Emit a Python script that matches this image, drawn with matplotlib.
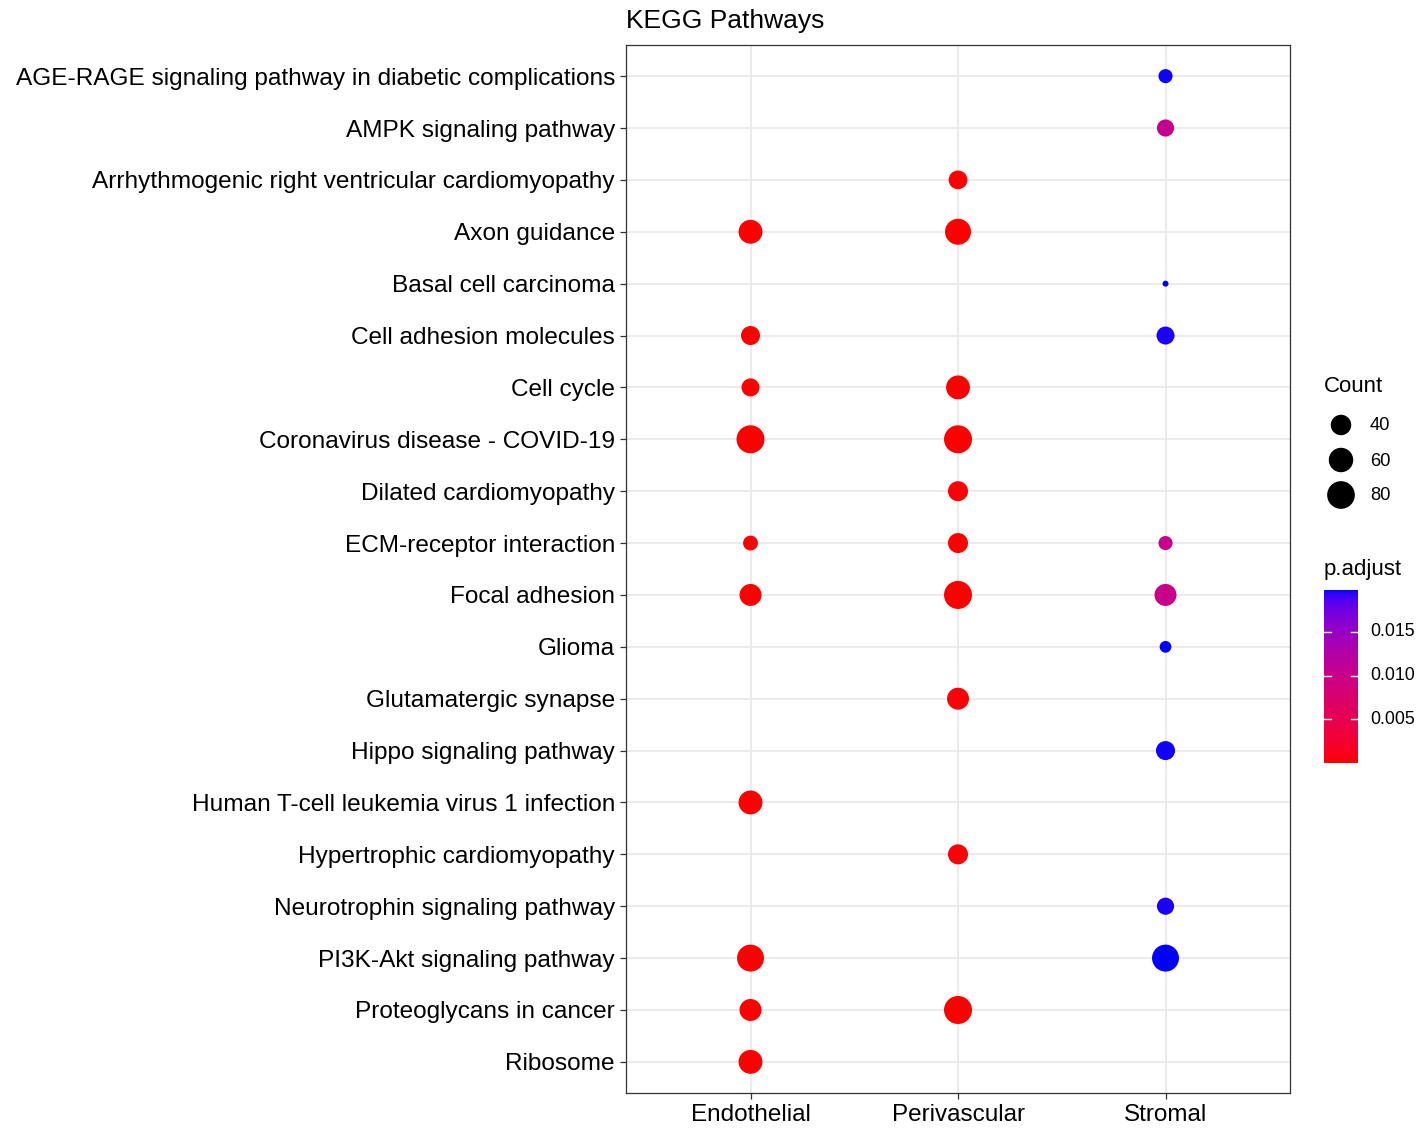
import numpy as np
import matplotlib
matplotlib.use("Agg")
import matplotlib.pyplot as plt
from matplotlib.colors import ListedColormap

plt.rcParams['font.family'] = ['Liberation Sans', 'DejaVu Sans']

# ---- data ----
pathways = [
    "AGE-RAGE signaling pathway in diabetic complications",
    "AMPK signaling pathway",
    "Arrhythmogenic right ventricular cardiomyopathy",
    "Axon guidance",
    "Basal cell carcinoma",
    "Cell adhesion molecules",
    "Cell cycle",
    "Coronavirus disease - COVID-19",
    "Dilated cardiomyopathy",
    "ECM-receptor interaction",
    "Focal adhesion",
    "Glioma",
    "Glutamatergic synapse",
    "Hippo signaling pathway",
    "Human T-cell leukemia virus 1 infection",
    "Hypertrophic cardiomyopathy",
    "Neurotrophin signaling pathway",
    "PI3K-Akt signaling pathway",
    "Proteoglycans in cancer",
    "Ribosome",
]
cell_types = ["Endothelial", "Perivascular", "Stromal"]

endothelial_terms = ["Axon guidance", "Cell adhesion molecules", "Cell cycle",
                     "Coronavirus disease - COVID-19", "ECM-receptor interaction",
                     "Focal adhesion", "Human T-cell leukemia virus 1 infection",
                     "PI3K-Akt signaling pathway", "Proteoglycans in cancer", "Ribosome"]
endothelial_count = [57, 34, 30, 82, 20, 47, 57, 75, 47, 57]
endothelial_padj = [2e-6, 5e-5, 1e-4, 1e-7, 2e-4, 6e-5, 3e-5, 1e-5, 4e-5, 1e-8]

perivascular_terms = ["Arrhythmogenic right ventricular cardiomyopathy", "Axon guidance",
                      "Cell cycle", "Coronavirus disease - COVID-19", "Dilated cardiomyopathy",
                      "ECM-receptor interaction", "Focal adhesion", "Glutamatergic synapse",
                      "Hypertrophic cardiomyopathy", "Proteoglycans in cancer"]
perivascular_count = [33, 69, 57, 82, 38, 38, 82, 47, 38, 82]
perivascular_padj = [1e-4, 1e-6, 5e-6, 1e-8, 2e-4, 1e-5, 1e-9, 3e-4, 2e-4, 1e-7]

stromal_terms = ["AGE-RAGE signaling pathway in diabetic complications",
                 "AMPK signaling pathway", "Basal cell carcinoma", "Cell adhesion molecules",
                 "ECM-receptor interaction", "Focal adhesion", "Glioma",
                 "Hippo signaling pathway", "Neurotrophin signaling pathway",
                 "PI3K-Akt signaling pathway"]
stromal_count = [18, 27, 8, 30, 18, 47, 13, 34, 27, 75]
stromal_padj = [0.0197, 0.0105, 0.0198, 0.0196, 0.0102, 0.0100, 0.0198, 0.0197, 0.0196, 0.0198]

count_breaks = [40, 60, 80]
padj_breaks = [0.005, 0.010, 0.015]


# ---- colour scale: red -> blue interpolated in CIE Lab ----
def srgb_to_lab(rgb):
    rgb = np.asarray(rgb, float)
    lin = np.where(rgb <= 0.04045, rgb / 12.92, ((rgb + 0.055) / 1.055) ** 2.4)
    M = np.array([[0.4124, 0.3576, 0.1805], [0.2126, 0.7152, 0.0722], [0.0193, 0.1192, 0.9505]])
    xyz = M @ lin / np.array([0.95047, 1.0, 1.08883])
    f = np.where(xyz > 0.008856, np.cbrt(xyz), 7.787 * xyz + 16 / 116)
    return np.array([116 * f[1] - 16, 500 * (f[0] - f[1]), 200 * (f[1] - f[2])])


def lab_to_srgb(lab):
    L, a, b = lab
    fy = (L + 16) / 116
    fx = fy + a / 500
    fz = fy - b / 200
    f = np.array([fx, fy, fz])
    xyz = np.where(f ** 3 > 0.008856, f ** 3, (f - 16 / 116) / 7.787) * np.array([0.95047, 1.0, 1.08883])
    Minv = np.array([[3.2406, -1.5372, -0.4986], [-0.9689, 1.8758, 0.0415], [0.0557, -0.2040, 1.0570]])
    lin = Minv @ xyz
    lin = np.clip(lin, 0, 1)
    rgb = np.where(lin <= 0.0031308, 12.92 * lin, 1.055 * lin ** (1 / 2.4) - 0.055)
    return np.clip(rgb, 0, 1)


lab_lo = srgb_to_lab([1, 0, 0])
lab_hi = srgb_to_lab([0, 0, 1])
cmap = ListedColormap([lab_to_srgb(lab_lo + (lab_hi - lab_lo) * t) for t in np.linspace(0, 1, 256)])

all_counts = endothelial_count + perivascular_count + stromal_count
all_padj = endothelial_padj + perivascular_padj + stromal_padj
cmin, cmax = min(all_counts), max(all_counts)
pmin, pmax = min(all_padj), max(all_padj)

DPI = 100


def marker_area(c):
    # diameter grows with sqrt of rescaled count (area scale), px -> pt^2
    d_px = 6 + 22 * np.sqrt((np.asarray(c, float) - cmin) / (cmax - cmin))
    return (d_px * 72 / DPI) ** 2


# ---- figure ----
W, H = 1420, 1129
fig = plt.figure(figsize=(W / DPI, H / DPI), dpi=DPI)


def fx(px):
    return px / W


def fy(py):
    return 1 - py / H


ax = fig.add_axes([fx(626), fy(1093), fx(1290) - fx(626), fy(45) - fy(1093)])
n = len(pathways)
ypos = {p: n - i for i, p in enumerate(pathways)}

for xi, (terms, counts, padj) in enumerate([
        (endothelial_terms, endothelial_count, endothelial_padj),
        (perivascular_terms, perivascular_count, perivascular_padj),
        (stromal_terms, stromal_count, stromal_padj)], start=1):
    ax.scatter([xi] * len(terms), [ypos[t] for t in terms], s=marker_area(counts),
               c=padj, cmap=cmap, vmin=pmin, vmax=pmax, edgecolors='none', zorder=3)

ax.set_xlim(0.4, 3.6)
ax.set_ylim(0.4, n + 0.6)
ax.set_xticks([1, 2, 3])
ax.set_xticklabels(cell_types, fontsize=17.5, color='black')
ax.set_yticks([ypos[p] for p in pathways])
ax.set_yticklabels(pathways, fontsize=17.55, color='black')
ax.tick_params(axis='both', length=4, width=0.9, color='#333333')
ax.tick_params(axis='y', pad=4)
ax.tick_params(axis='x', pad=4)
ax.grid(True, color='#EBEBEB', lw=1.4, zorder=0)
ax.set_axisbelow(True)
for sp in ax.spines.values():
    sp.set_color('#333333')
    sp.set_linewidth(0.9)

fig.text(fx(626), fy(21), "KEGG Pathways", fontsize=19, ha='left', va='center')

# ---- size legend ----
fig.text(fx(1324), fy(387), "Count", fontsize=16, ha='left', va='center')
lax = fig.add_axes([0, 0, 1, 1], facecolor='none')
lax.set_xlim(0, W)
lax.set_ylim(H, 0)
lax.axis('off')
for k, c in enumerate(count_breaks):
    yy = 425 + 35 * k
    lax.scatter([1341], [yy], s=marker_area(c), color='black', edgecolors='none')
    lax.text(1370, yy + 1, str(c), fontsize=13.2, ha='left', va='center')

# ---- colour bar ----
fig.text(fx(1324), fy(569), "p.adjust", fontsize=16, ha='left', va='center')
cax = fig.add_axes([fx(1324), fy(763), fx(1358) - fx(1324), fy(590) - fy(763)])
grad = np.linspace(pmin, pmax, 256).reshape(-1, 1)
cax.imshow(grad, aspect='auto', cmap=cmap, vmin=pmin, vmax=pmax, origin='lower',
           extent=[0, 1, pmin, pmax])
cax.set_xlim(0, 1)
cax.set_ylim(pmin, pmax)
cax.set_xticks([])
cax.set_yticks([])
for sp in cax.spines.values():
    sp.set_visible(False)
for b in padj_breaks:
    cax.plot([0, 0.22], [b, b], color='white', lw=1.0)
    cax.plot([0.78, 1], [b, b], color='white', lw=1.0)
    cax.text(1.35, b, f"{b:.3f}", fontsize=12.8, ha='left', va='center',
             transform=cax.get_yaxis_transform())

fig.savefig("out.png", dpi=DPI)
